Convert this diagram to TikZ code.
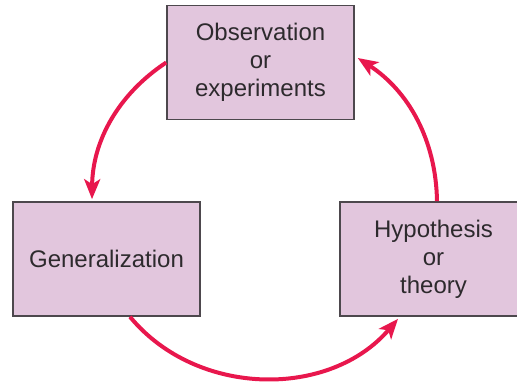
\documentclass[tikz,border=0pt]{standalone}
\usepackage{fontspec}
\setmainfont{Liberation Sans}
\usepackage{tikz}
\usetikzlibrary{arrows.meta, positioning}
\definecolor{boxfill}{RGB}{226,198,221}
\definecolor{boxline}{RGB}{77,72,77}
\definecolor{arrowred}{RGB}{232,23,77}
\definecolor{textgray}{RGB}{45,42,45}

\begin{document}
\begin{tikzpicture}[x=0.5pt, y=0.5pt,
					phase/.style={draw=boxline, line width=0.8pt, fill=boxfill,
						minimum width=93.5pt, minimum height=57pt, align=center,
						text=textgray, font=\fontsize{12}{14}\selectfont},
					flow/.style={draw=arrowred, line width=2pt,
						-{Stealth[length=10pt, width=8pt, inset=2.5pt]}}]
\useasboundingbox (0,0) rectangle (517,381);

\node[phase] (obs) at (260.5,318.5) {Observation\\or\\experiments};
\node[phase] (gen) at (106.5,122) {Generalization};
\node[phase] (hyp) at (433.5,122) {Hypothesis\\or\\theory};

\draw[flow] (obs.west) to[bend right=28, looseness=0.95] ([xshift=-7.25pt, yshift=1pt]gen.north);
\draw[flow] ([xshift=11.75pt]gen.south) to[bend right=50] ([xshift=-17.75pt, yshift=-1pt]hyp.south);
\draw[flow] ([xshift=1.75pt]hyp.north) to[bend right=28, looseness=0.95] ([xshift=1.5pt, yshift=2.25pt]obs.east);
\end{tikzpicture}
\end{document}
